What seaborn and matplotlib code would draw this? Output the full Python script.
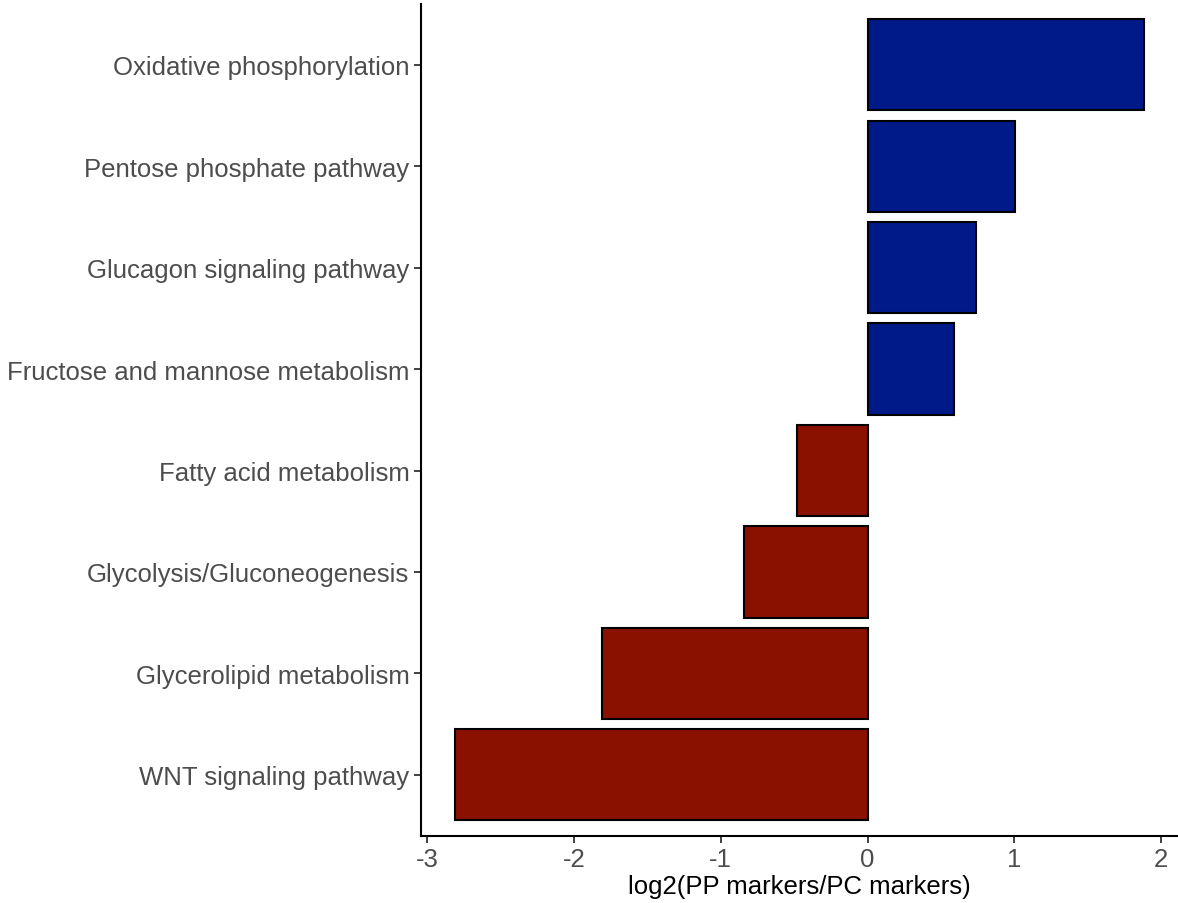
import matplotlib
matplotlib.use("Agg")
import matplotlib.pyplot as plt
import seaborn as sns
import pandas as pd

pathways = [
    "Oxidative phosphorylation",
    "Pentose phosphate pathway",
    "Glucagon signaling pathway",
    "Fructose and mannose metabolism",
    "Fatty acid metabolism",
    "Glycolysis/Gluconeogenesis",
    "Glycerolipid metabolism",
    "WNT signaling pathway",
]
log2_ratio = [1.88, 1.005, 0.74, 0.59, -0.48, -0.84, -1.81, -2.81]
direction = ["up" if v > 0 else "down" for v in log2_ratio]
palette = {"up": "#001A8A", "down": "#8A1000"}
x_ticks = [-3, -2, -1, 0, 1, 2]

df = pd.DataFrame({"pathway": pathways, "value": log2_ratio, "direction": direction})

sns.set_theme(style="white")
plt.rcParams["font.family"] = ["Liberation Sans", "DejaVu Sans"]

fig = plt.figure(figsize=(11.78, 9.04), dpi=100)
ax = fig.add_axes([0.357, 0.0745, 0.643, 0.92])

sns.barplot(data=df, x="value", y="pathway", hue="direction", palette=palette,
            order=pathways, orient="h", width=0.9, dodge=False, legend=False,
            edgecolor="black", linewidth=1.5, ax=ax, saturation=1)

lo, hi = min(min(log2_ratio), 0), max(max(log2_ratio), 0)
pad = 0.05 * (hi - lo)
ax.set_xlim(lo - pad, hi + pad)
ax.set_ylim(len(pathways) - 0.4, -0.6)

ax.set_xticks(x_ticks)
ax.set_xticklabels([str(t) for t in x_ticks])
ax.set_xlabel("log2(PP markers/PC markers)", fontsize=18.5, color="black", labelpad=2)
ax.set_ylabel("")

for side in ["top", "right"]:
    ax.spines[side].set_visible(False)
for side in ["left", "bottom"]:
    ax.spines[side].set_color("black")
    ax.spines[side].set_linewidth(1.5)

ax.tick_params(axis="both", which="both", length=5, width=1.3, color="#333333",
               labelsize=18.5, labelcolor="#4D4D4D", pad=3,
               left=True, bottom=True)

fig.savefig("out.png", dpi=100)
